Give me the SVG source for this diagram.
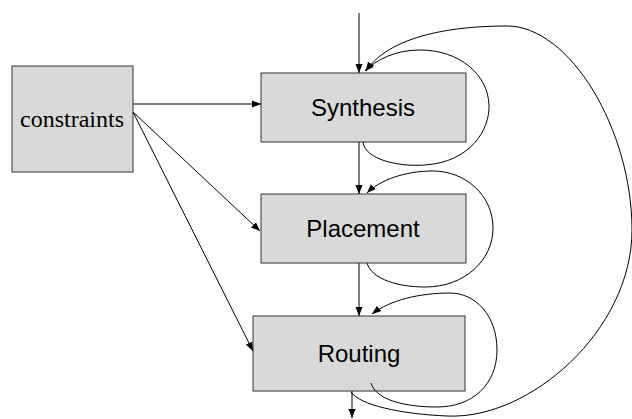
<svg xmlns="http://www.w3.org/2000/svg" width="632" height="419" viewBox="0 0 632 419">
  <style>
    .box { fill: #d9d9d9; stroke: #333; stroke-width: 1; }
    .sans { font-family: "Liberation Sans", Arial, sans-serif; font-size: 24px; fill: #000; text-anchor: middle; }
    .serif { font-family: "Liberation Serif", "Times New Roman", serif; font-size: 24px; fill: #000; text-anchor: middle; }
    .edge { fill: none; stroke: #000; stroke-width: 1; marker-end: url(#arrow); }
  </style>
  <defs>
    <marker id="arrow" markerUnits="userSpaceOnUse" markerWidth="10" markerHeight="8" refX="9" refY="4" orient="auto">
      <path d="M0,0.5 L9,4 L0,7.5 Z" fill="#000"/>
    </marker>
  </defs>
  <rect width="632" height="419" fill="#fff"/>

  <g id="constraints">
    <rect class="box" x="12" y="66" width="121" height="106"/>
    <text class="serif" x="72" y="127">constraints</text>
  </g>
  <g id="synthesis">
    <rect class="box" x="261" y="73" width="205" height="69"/>
    <text class="sans" x="363" y="116">Synthesis</text>
  </g>
  <g id="placement">
    <rect class="box" x="261" y="194" width="205" height="69"/>
    <text class="sans" x="363" y="237">Placement</text>
  </g>
  <g id="routing">
    <rect class="box" x="253" y="316" width="212" height="75"/>
    <text class="sans" x="359" y="362">Routing</text>
  </g>

  <g id="connectors">
    <!-- input into synthesis -->
    <path class="edge" d="M359,13 L359,73"/>
    <!-- constraints fan-out -->
    <path class="edge" d="M133,104 L261,104"/>
    <path class="edge" d="M133,112 L260,231"/>
    <path class="edge" d="M133,112 L253,351"/>
    <!-- main flow -->
    <path class="edge" d="M359,142 L359,194"/>
    <path class="edge" d="M359,263 L359,316"/>
    <path class="edge" d="M352,391 L352,418"/>
    <!-- iteration loops -->
    <path class="edge" d="M363,142 C365,160 400,167 425,165 C470,162 490,130 489,105 C488,75 460,50 420,50 C395,50 376,60 365,71"/>
    <path class="edge" d="M367,263 C372,280 400,287 425,287 C465,287 493,260 493,228 C493,195 465,171 433,171 C405,171 380,180 367,193"/>
    <path class="edge" d="M371,383 C376,400 405,407 437,407 C472,407 497,385 497,350 C497,315 475,293 450,293 C420,293 390,300 372,314"/>
    <path class="edge" d="M351,392 C360,405 400,414 447,416 C530,420 632,330 632,230 C632,130 570,26 507,26 C435,26 385,42 366,71"/>
  </g>
</svg>
